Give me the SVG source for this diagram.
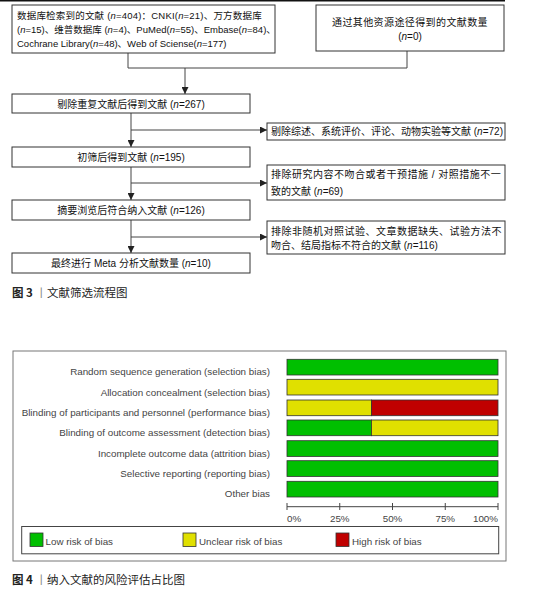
<svg xmlns="http://www.w3.org/2000/svg" width="549" height="595" viewBox="0 0 549 595">
<style>
.box{fill:#fff;stroke:#333;stroke-width:1}
.t{font-family:"Liberation Sans","Noto Sans CJK SC",sans-serif;font-size:10px;fill:#111}
.s{font-size:9.5px}
.c{text-anchor:middle}
.i{font-style:italic}
.con{fill:none;stroke:#444;stroke-width:1}
.lab{font-family:"Liberation Sans",Arial,sans-serif;font-size:9.8px;fill:#444;text-anchor:end}
.ax{font-family:"Liberation Sans",Arial,sans-serif;font-size:9.8px;fill:#444}
.g{fill:#00bf00;stroke:#333;stroke-width:0.8}
.y{fill:#e0e000;stroke:#333;stroke-width:0.8}
.r{fill:#c00000;stroke:#333;stroke-width:0.8}
.cap{font-family:"Noto Sans CJK SC",sans-serif;font-size:11.5px;fill:#222}
</style>
<defs>
<marker id="ar" viewBox="0 0 10 10" refX="10" refY="5" markerWidth="7" markerHeight="7" orient="auto" markerUnits="userSpaceOnUse">
<path d="M0,0 L10,5 L0,10 z" fill="#222"/>
</marker>
</defs>
<line x1="0" y1="0.7" x2="505" y2="0.7" stroke="#111" stroke-width="1.4"/>

<g id="connectors">
<polyline class="con" points="128,53 128,68 407,68 407,51"/>
<line class="con" x1="185" y1="68" x2="185" y2="94" marker-end="url(#ar)"/>
<line class="con" x1="131" y1="113" x2="131" y2="147" marker-end="url(#ar)"/>
<line class="con" x1="131" y1="130" x2="267" y2="130" marker-end="url(#ar)"/>
<line class="con" x1="131" y1="167" x2="131" y2="200" marker-end="url(#ar)"/>
<line class="con" x1="131" y1="183" x2="267" y2="183" marker-end="url(#ar)"/>
<line class="con" x1="131" y1="220" x2="131" y2="253" marker-end="url(#ar)"/>
<line class="con" x1="131" y1="237" x2="267" y2="237" marker-end="url(#ar)"/>
</g>

<g id="n1">
<rect class="box" x="12" y="5" width="263" height="48"/>
<text class="t s" x="17" y="18.5" letter-spacing="0.2">数据库检索到的文献 (<tspan class="i">n</tspan>=404)：CNKI(<tspan class="i">n</tspan>=21)、万方数据库</text>
<text class="t s" x="17" y="32.5">(<tspan class="i">n</tspan>=15)、维普数据库 (<tspan class="i">n</tspan>=4)、PuMed(<tspan class="i">n</tspan>=55)、Embase(<tspan class="i">n</tspan>=84)、</text>
<text class="t s" x="17" y="46.5">Cochrane Library(<tspan class="i">n</tspan>=48)、Web of Sciense(<tspan class="i">n</tspan>=177)</text>
</g>
<g id="n2">
<rect class="box" x="316" y="5" width="188" height="46"/>
<text class="t c" x="410" y="25.5" letter-spacing="0.4">通过其他资源途径得到的文献数量</text>
<text class="t c" x="410" y="39.5">(<tspan class="i">n</tspan>=0)</text>
</g>
<g id="n3">
<rect class="box" x="12" y="94" width="238" height="19"/>
<text class="t c" x="131" y="107.5">剔除重复文献后得到文献 (<tspan class="i">n</tspan>=267)</text>
</g>
<g id="n4">
<rect class="box" x="267" y="123" width="238" height="17"/>
<text class="t" x="271" y="134.5">剔除综述、系统评价、评论、动物实验等文献 (<tspan class="i">n</tspan>=72)</text>
</g>
<g id="n5">
<rect class="box" x="12" y="147" width="238" height="20"/>
<text class="t c" x="131" y="160.5">初筛后得到文献 (<tspan class="i">n</tspan>=195)</text>
</g>
<g id="n6">
<rect class="box" x="267" y="165" width="238" height="35"/>
<text class="t" x="271" y="177.5" letter-spacing="0.5">排除研究内容不吻合或者干预措施 / 对照措施不一</text>
<text class="t" x="271" y="195">致的文献 (<tspan class="i">n</tspan>=69)</text>
</g>
<g id="n7">
<rect class="box" x="12" y="200" width="238" height="20"/>
<text class="t c" x="131" y="213.5">摘要浏览后符合纳入文献 (<tspan class="i">n</tspan>=126)</text>
</g>
<g id="n8">
<rect class="box" x="267" y="221" width="238" height="33"/>
<text class="t" x="271" y="235" letter-spacing="0.5">排除非随机对照试验、文章数据缺失、试验方法不</text>
<text class="t" x="271" y="248.5">吻合、结局指标不符合的文献 (<tspan class="i">n</tspan>=116)</text>
</g>
<g id="n9">
<rect class="box" x="12" y="253" width="238" height="20"/>
<text class="t c" x="131" y="266.5">最终进行 Meta 分析文献数量 (<tspan class="i">n</tspan>=10)</text>
</g>
<text class="cap" x="12" y="297"><tspan font-weight="bold">图 3</tspan> <tspan fill="#888">丨</tspan>文献筛选流程图</text>

<g id="chart">
<rect x="13" y="351" width="493" height="210" fill="#fff" stroke="#777" stroke-width="1"/>
<text class="lab" x="270" y="375">Random sequence generation (selection bias)</text>
<text class="lab" x="270" y="395.5">Allocation concealment (selection bias)</text>
<text class="lab" x="270" y="416">Blinding of participants and personnel (performance bias)</text>
<text class="lab" x="270" y="436">Blinding of outcome assessment (detection bias)</text>
<text class="lab" x="270" y="456.5">Incomplete outcome data (attrition bias)</text>
<text class="lab" x="270" y="476.5">Selective reporting (reporting bias)</text>
<text class="lab" x="270" y="497">Other bias</text>
<rect class="g" x="287" y="359.3" width="211" height="15.7"/>
<rect class="y" x="287" y="379.3" width="211" height="15.7"/>
<rect class="y" x="287" y="400" width="84.4" height="15.7"/>
<rect class="r" x="371.4" y="400" width="126.6" height="15.7"/>
<rect class="g" x="287" y="420" width="84.4" height="15.7"/>
<rect class="y" x="371.4" y="420" width="126.6" height="15.7"/>
<rect class="g" x="287" y="440.7" width="211" height="15.7"/>
<rect class="g" x="287" y="460.7" width="211" height="15.7"/>
<rect class="g" x="287" y="481.3" width="211" height="15.7"/>
<g stroke="#444" stroke-width="1">
<line x1="287" y1="506.7" x2="498" y2="506.7"/>
<line x1="287" y1="503" x2="287" y2="510"/>
<line x1="339.75" y1="503" x2="339.75" y2="510"/>
<line x1="392.5" y1="503" x2="392.5" y2="510"/>
<line x1="445.25" y1="503" x2="445.25" y2="510"/>
<line x1="498" y1="503" x2="498" y2="510"/>
</g>
<text class="ax" x="287" y="521.5">0%</text>
<text class="ax" x="339.75" y="521.5" text-anchor="middle">25%</text>
<text class="ax" x="392.5" y="521.5" text-anchor="middle">50%</text>
<text class="ax" x="445.25" y="521.5" text-anchor="middle">75%</text>
<text class="ax" x="498" y="521.5" text-anchor="end">100%</text>
<rect x="21.7" y="526.5" width="477" height="27.3" fill="#fff" stroke="#444" stroke-width="1"/>
<rect class="g" x="30" y="533" width="13" height="13.5"/>
<text class="ax" x="45.5" y="544.5">Low risk of bias</text>
<rect class="y" x="183" y="533" width="13" height="13.5"/>
<text class="ax" x="199" y="544.5">Unclear risk of bias</text>
<rect class="r" x="336" y="533" width="13" height="13.5"/>
<text class="ax" x="352" y="544.5">High risk of bias</text>
</g>
<text class="cap" x="12" y="584"><tspan font-weight="bold">图 4</tspan> <tspan fill="#888">丨</tspan>纳入文献的风险评估占比图</text>
</svg>
